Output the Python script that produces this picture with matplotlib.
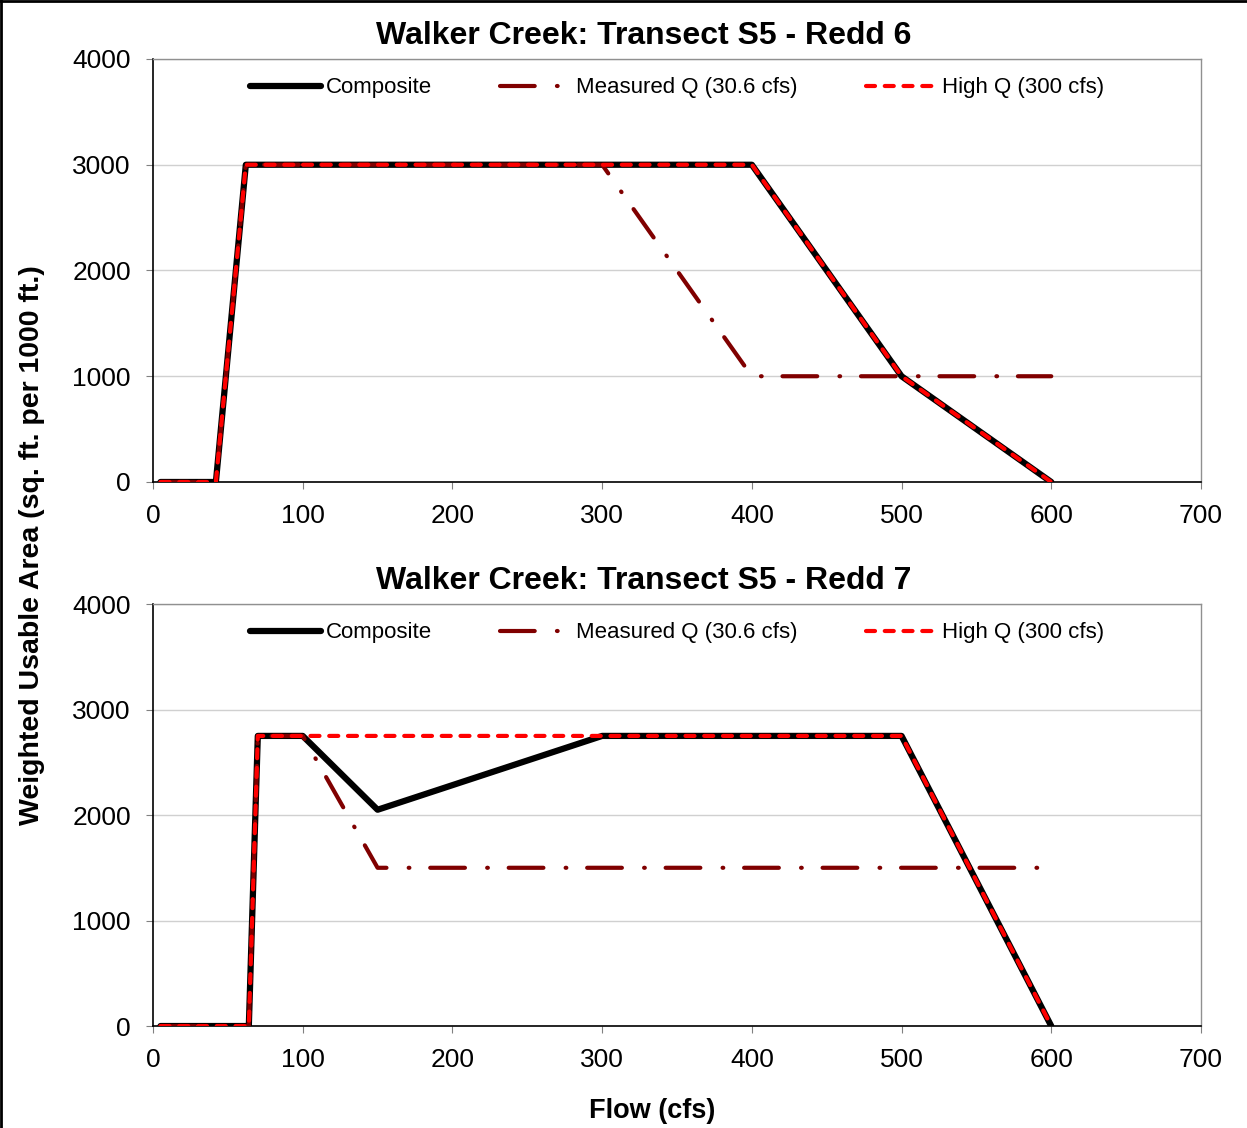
"""
Walker Creek transect S5 - weighted usable area vs flow, redds 6 and 7
"""

import matplotlib
matplotlib.use('Agg')
import matplotlib.pyplot as plt
from matplotlib.lines import Line2D

plt.rcParams['font.family'] = ['Liberation Sans', 'DejaVu Sans']
plt.rcParams['lines.scale_dashes'] = False

# Redd 6
r6_comp_flow = [5, 42, 62, 400, 500, 600]
r6_comp_wua = [0, 0, 3000, 3000, 1000, 0]
r6_meas_flow = [5, 42, 62, 300, 400, 600]
r6_meas_wua = [0, 0, 3000, 3000, 1000, 1000]
r6_high_flow = [5, 42, 62, 400, 500, 600]
r6_high_wua = [0, 0, 3000, 3000, 1000, 0]

# Redd 7
r7_comp_flow = [5, 64, 70, 100, 150, 300, 500, 600]
r7_comp_wua = [0, 0, 2750, 2750, 2050, 2750, 2750, 0]
r7_meas_flow = [5, 64, 70, 100, 150, 600]
r7_meas_wua = [0, 0, 2750, 2750, 1500, 1500]
r7_high_flow = [5, 64, 70, 500, 600]
r7_high_wua = [0, 0, 2750, 2750, 0]

titles = ['Walker Creek: Transect S5 - Redd 6', 'Walker Creek: Transect S5 - Redd 7']
x_ticks = [0, 100, 200, 300, 400, 500, 600, 700]
y_ticks = [0, 1000, 2000, 3000, 4000]

fig = plt.figure(figsize=(12.47, 11.28), dpi=100, facecolor='white')

panels = [
    (r6_comp_flow, r6_comp_wua, r6_meas_flow, r6_meas_wua, r6_high_flow, r6_high_wua),
    (r7_comp_flow, r7_comp_wua, r7_meas_flow, r7_meas_wua, r7_high_flow, r7_high_wua),
]
axes_rects = [[0.1227, 0.5727, 0.8404, 0.375], [0.1227, 0.0904, 0.8404, 0.3741]]
title_y = [1 - 36 / 1128, 1 - 581 / 1128]

for rect, data, title, ty in zip(axes_rects, panels, titles, title_y):
    cf, cw, mf, mw, hf, hw = data
    ax = fig.add_axes(rect)

    ax.plot(cf, cw, color='black', linewidth=4.5, solid_capstyle='round',
            solid_joinstyle='round', label='Composite', zorder=3)
    ax.plot(mf, mw, color='#800000', linewidth=3, linestyle=(0, (25, 16, 0.5, 15)),
            dash_capstyle='round', dash_joinstyle='round',
            label='Measured Q (30.6 cfs)', zorder=4)
    ax.plot(hf, hw, color='#ff0000', linewidth=3, linestyle=(0, (6.5, 7)),
            dash_capstyle='round', dash_joinstyle='round',
            label='High Q (300 cfs)', zorder=5)

    ax.set_xlim(0, 700)
    ax.set_ylim(0, 4000)
    ax.set_xticks(x_ticks)
    ax.set_yticks(y_ticks)
    ax.tick_params(labelsize=19, direction='out', length=5, color='#808080')
    ax.tick_params(axis='y', pad=11)
    ax.tick_params(axis='x', pad=11)
    ax.grid(True, axis='y', color='#d0d0d0', linewidth=1)
    ax.set_axisbelow(True)
    for side in ['top', 'right']:
        ax.spines[side].set_color('#909090')
        ax.spines[side].set_linewidth(1)
    for side in ['left', 'bottom']:
        ax.spines[side].set_color('black')
        ax.spines[side].set_linewidth(1.2)

    ax.legend(loc='upper center', bbox_to_anchor=(0.5, 1.004), ncol=3, frameon=False,
              fontsize=16, handlelength=3.2, handletextpad=0.2, columnspacing=3.1)

    fig.text(644 / 1247, ty, title, ha='center', va='center',
             fontsize=23, fontweight='bold')

fig.text(32 / 1247, 1 - 545 / 1128, 'Weighted Usable Area (sq. ft. per 1000 ft.)',
         rotation=90, ha='center', va='center', fontsize=20.5, fontweight='bold')
fig.text(652 / 1247, 1 - 1111 / 1128, 'Flow (cfs)', ha='center', va='center',
         fontsize=19.5, fontweight='bold')

# chart frame edges (left and top)
fig.add_artist(Line2D([0.001, 0.001], [0, 1], transform=fig.transFigure,
                      color='black', linewidth=2))
fig.add_artist(Line2D([0, 1], [0.999, 0.999], transform=fig.transFigure,
                      color='black', linewidth=2))

plt.savefig('out.png', dpi=100, facecolor='white')
plt.close()
